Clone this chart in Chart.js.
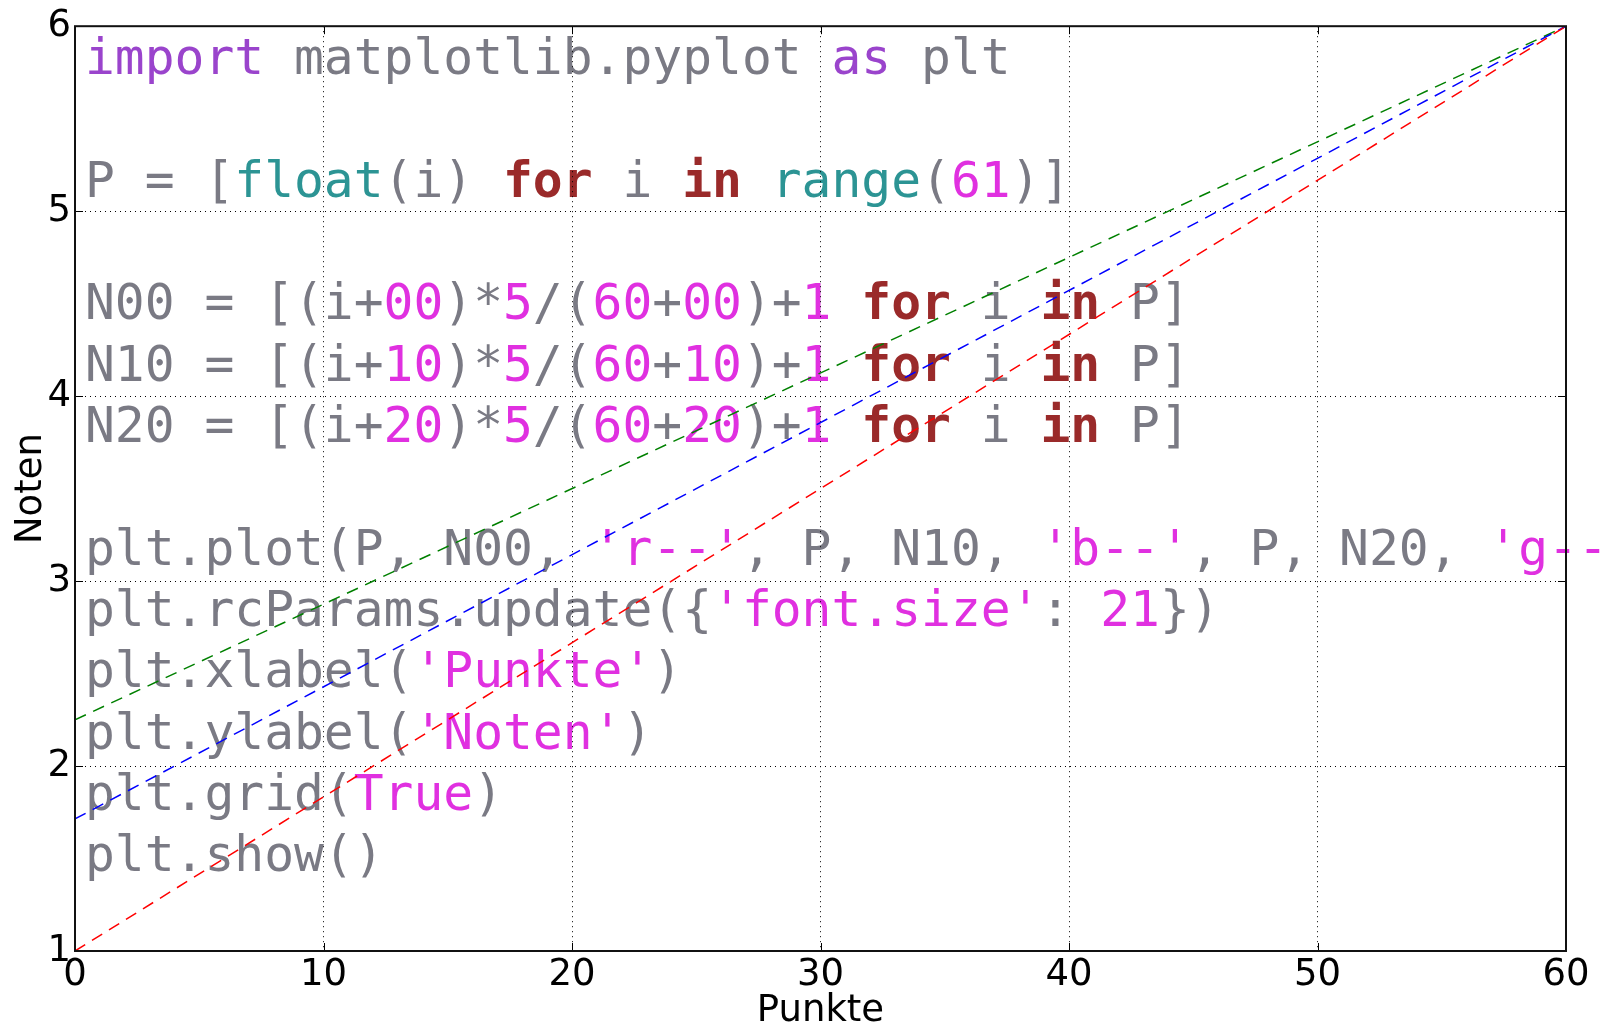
<!DOCTYPE html>
<html>
<head>
<meta charset="utf-8">
<script src="https://cdn.jsdelivr.net/npm/chart.js@4"></script>
<style>
  html, body { margin: 0; padding: 0; background: #fff; }
  #c { display: block; }
</style>
</head>
<body>
<canvas id="c" width="1612" height="1024"></canvas>
<script>
// ---- data ----
const P = [0, 60];
const N00 = [1, 6];
const N10 = [1.714, 6];
const N20 = [2.25, 6];
const xTicks = [0, 10, 20, 30, 40, 50, 60];
const yTicks = [1, 2, 3, 4, 5, 6];
const xTitle = 'Punkte';
const yTitle = 'Noten';

// ---- background code text (token, style) ----
const G = 'g', K = 'k', B = 'b', M = 'm', T = 't';
const codeLines = [
  [['import', K], [' matplotlib.pyplot ', G], ['as', K], [' plt', G]],
  [],
  [['P = [', G], ['float', T], ['(i) ', G], ['for', B], [' i ', G], ['in', B], [' ', G], ['range', T], ['(', G], ['61', M], [')]', G]],
  [],
  [['N00 = [(i+', G], ['00', M], [')*', G], ['5', M], ['/(', G], ['60', M], ['+', G], ['00', M], [')+', G], ['1', M], [' ', G], ['for', B], [' i ', G], ['in', B], [' P]', G]],
  [['N10 = [(i+', G], ['10', M], [')*', G], ['5', M], ['/(', G], ['60', M], ['+', G], ['10', M], [')+', G], ['1', M], [' ', G], ['for', B], [' i ', G], ['in', B], [' P]', G]],
  [['N20 = [(i+', G], ['20', M], [')*', G], ['5', M], ['/(', G], ['60', M], ['+', G], ['20', M], [')+', G], ['1', M], [' ', G], ['for', B], [' i ', G], ['in', B], [' P]', G]],
  [],
  [['plt.plot(P, N00, ', G], ["'r--'", M], [', P, N10, ', G], ["'b--'", M], [', P, N20, ', G], ["'g--'", M], [')', G]],
  [['plt.rcParams.update({', G], ["'font.size'", M], [': ', G], ['21', M], ['})', G]],
  [['plt.xlabel(', G], ["'Punkte'", M], [')', G]],
  [['plt.ylabel(', G], ["'Noten'", M], [')', G]],
  [['plt.grid(', G], ['True', M], [')', G]],
  [['plt.show()', G]]
];
const tokenStyle = {
  g: { color: '#7a7a84', bold: false },
  k: { color: '#9a44cc', bold: false },
  b: { color: '#9a2a2a', bold: true },
  m: { color: '#e030e0', bold: false },
  t: { color: '#2c9494', bold: false }
};

const codePlugin = {
  id: 'codeBackground',
  beforeDraw(chart) {
    const ctx = chart.ctx;
    const a = chart.chartArea;
    const fs = 49.6;
    ctx.save();
    ctx.fillStyle = '#ffffff';
    ctx.fillRect(0, 0, chart.width, chart.height);
    ctx.font = fs + 'px "DejaVu Sans Mono"';
    const cw = ctx.measureText('M').width;
    const x0 = a.left + 10;
    const y0 = a.top + 48;
    const lh = 61.3;
    ctx.textBaseline = 'alphabetic';
    ctx.textAlign = 'left';
    codeLines.forEach((line, li) => {
      let col = 0;
      line.forEach(([txt, st]) => {
        const s = tokenStyle[st];
        ctx.font = (s.bold ? 'bold ' : '') + fs + 'px "DejaVu Sans Mono"';
        ctx.fillStyle = s.color;
        for (let i = 0; i < txt.length; i++) {
          ctx.fillText(txt[i], x0 + (col + i) * cw, y0 + li * lh);
        }
        col += txt.length;
      });
    });
    ctx.restore();
  }
};

const framePlugin = {
  id: 'frame',
  afterDatasetsDraw(chart) {
    const ctx = chart.ctx;
    const a = chart.chartArea;
    const xs = chart.scales.x, ys = chart.scales.y;
    ctx.save();
    ctx.strokeStyle = '#000';
    ctx.lineWidth = 1;
    const tl = 8;
    ctx.beginPath();
    xs.ticks.forEach(t => {
      const px = Math.round(xs.getPixelForValue(t.value)) + 0.5;
      ctx.moveTo(px, a.bottom); ctx.lineTo(px, a.bottom - tl);
      ctx.moveTo(px, a.top); ctx.lineTo(px, a.top + tl);
    });
    ys.ticks.forEach(t => {
      const py = Math.round(ys.getPixelForValue(t.value)) + 0.5;
      ctx.moveTo(a.left, py); ctx.lineTo(a.left + tl, py);
      ctx.moveTo(a.right, py); ctx.lineTo(a.right - tl, py);
    });
    ctx.stroke();
    ctx.lineWidth = 2;
    ctx.strokeStyle = '#111';
    ctx.strokeRect(a.left, a.top, a.right - a.left, a.bottom - a.top);
    ctx.restore();
  }
};

function pts(xsArr, ysArr) {
  return xsArr.map((x, i) => ({ x: x, y: ysArr[i] }));
}
function ds(label, ys, color) {
  return {
    label: label,
    data: pts(P, ys),
    borderColor: color,
    backgroundColor: color,
    borderWidth: 1.5,
    borderDash: [12, 8],
    pointRadius: 0,
    showLine: true,
    fill: false,
    tension: 0
  };
}

const tickFont = { family: '"DejaVu Sans"', size: 37 };

new Chart(document.getElementById('c'), {
  type: 'scatter',
  data: {
    datasets: [
      ds('N00', N00, '#ff0000'),
      ds('N10', N10, '#0000ff'),
      ds('N20', N20, '#008000')
    ]
  },
  options: {
    responsive: false,
    animation: false,
    devicePixelRatio: 1,
    layout: { padding: { top: 24, right: 46, left: 0, bottom: 0 } },
    plugins: { legend: { display: false }, tooltip: { enabled: false } },
    scales: {
      x: {
        type: 'linear',
        min: 0, max: 60,
        afterBuildTicks(scale) { scale.ticks = xTicks.map(v => ({ value: v })); },
        afterFit(scale) { scale.height = 73; },
        ticks: { font: tickFont, color: '#000', padding: 2, maxRotation: 0, autoSkip: false },
        grid: { color: '#000', lineWidth: 1, drawTicks: false },
        border: { display: false, dash: [1, 4] },
        title: { display: true, text: xTitle, color: '#000', font: tickFont, padding: { top: -10, bottom: -10 } }
      },
      y: {
        type: 'linear',
        min: 1, max: 6,
        afterBuildTicks(scale) { scale.ticks = yTicks.map(v => ({ value: v })); },
        afterFit(scale) { scale.width = 75; },
        ticks: { font: tickFont, color: '#000', padding: 4, autoSkip: false },
        grid: { color: '#000', lineWidth: 1, drawTicks: false },
        border: { display: false, dash: [1, 4] },
        title: { display: true, text: yTitle, color: '#000', font: tickFont, padding: { top: 9, bottom: 9 } }
      }
    }
  },
  plugins: [codePlugin, framePlugin]
});
</script>
</body>
</html>
